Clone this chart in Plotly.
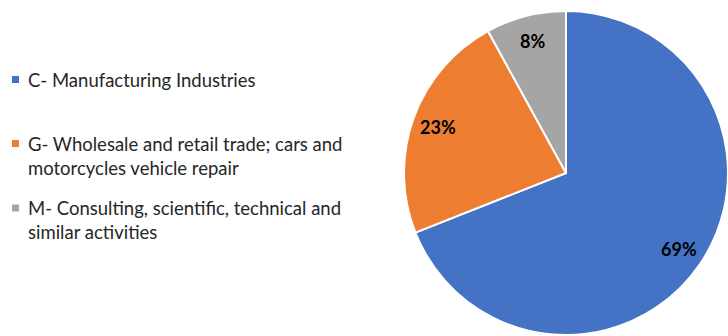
import math
import plotly.graph_objects as go

# Share of companies by activity sector
labels = [
    "C- Manufacturing Industries",
    "G- Wholesale and retail trade; cars and<br>motorcycles vehicle repair",
    "M- Consulting, scientific, technical and<br>similar activities",
]
values = [69, 23, 8]
colors = ["#4472C4", "#ED7D31", "#A5A5A5"]

W, H = 728, 336
# pie placement in pixels (centre and radius)
cx, cy, R = 566, 173, 162

fig = go.Figure(
    go.Pie(
        labels=labels,
        values=values,
        sort=False,
        direction="clockwise",
        rotation=0,
        marker=dict(colors=colors, line=dict(color="white", width=2)),
        textinfo="none",
        hoverinfo="label+percent",
        showlegend=False,
        domain=dict(x=[(cx - R) / W, 1], y=[(H - cy - R) / H, (H - cy + R) / H]),
    )
)

annotations = []
shapes = []

# percentage labels placed along each slice's bisector
total = sum(values)
start = 0.0
for v in values:
    frac = v / total
    mid = (start + frac / 2) * 2 * math.pi
    start += frac
    px = cx + 0.84 * R * math.sin(mid)
    py = cy - 0.84 * R * math.cos(mid)
    annotations.append(
        dict(
            x=px / W, y=1 - py / H, xref="paper", yref="paper",
            text=f"<b>{round(frac * 100)}%</b>", showarrow=False,
            font=dict(family="Lato", size=18, color="#000000"),
            xanchor="center", yanchor="middle",
        )
    )

# legend drawn on the left: coloured square + wrapped label
legend_rows = [80, 155.5, 219.5]   # block centres (px)
square_rows = [79.5, 143.5, 208]   # square centres (px)
for lab, col, ty, sy in zip(labels, colors, legend_rows, square_rows):
    annotations.append(
        dict(
            x=26 / W, y=1 - ty / H, xref="paper", yref="paper",
            text=lab, showarrow=False, align="left",
            font=dict(family="Lato", size=18.5, color="#262626"),
            xanchor="left", yanchor="middle",
        )
    )
    shapes.append(
        dict(
            type="rect", xref="paper", yref="paper",
            x0=12 / W, x1=19 / W, y0=1 - (sy + 3.5) / H, y1=1 - (sy - 3.5) / H,
            fillcolor=col, line=dict(width=0),
        )
    )

fig.update_layout(
    width=W, height=H,
    margin=dict(l=0, r=0, t=0, b=0),
    paper_bgcolor="white", plot_bgcolor="white",
    annotations=annotations, shapes=shapes,
)

fig.write_html("out.html")
